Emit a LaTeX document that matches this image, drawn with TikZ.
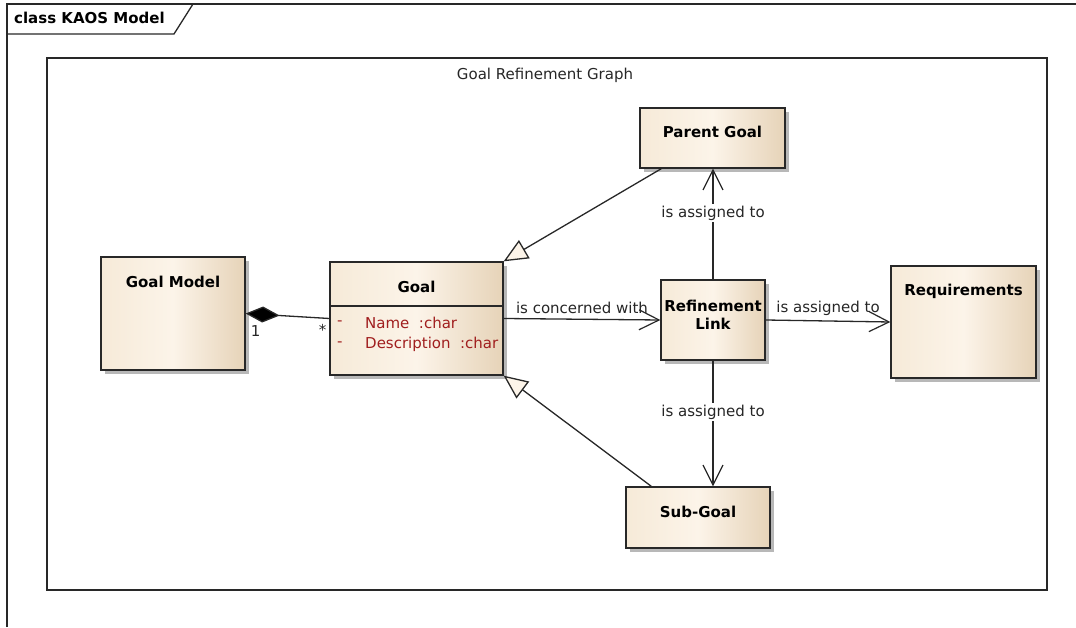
\documentclass[tikz,border=0pt]{standalone}
\usepackage{fontspec}
\setmainfont{DejaVu Sans}
\usepackage{tikz}
\usetikzlibrary{calc,positioning,arrows.meta,shadows}

\definecolor{boxL}{RGB}{246,234,216}
\definecolor{boxM}{RGB}{252,244,233}
\definecolor{boxR}{RGB}{230,211,184}
\definecolor{attrred}{RGB}{160,30,30}
\definecolor{linegray}{RGB}{40,40,40}

\tikzset{
  classbox/.style={draw=linegray, line width=1.3pt, inner sep=0pt,
    left color=boxL, right color=boxR, middle color=boxM,
    drop shadow={shadow xshift=4pt, shadow yshift=-4pt, fill=black!28, opacity=1}},
  classname/.style={font=\fontsize{15}{18}\selectfont\bfseries, align=center, inner sep=0pt},
  attr/.style={font=\fontsize{15}{18}\selectfont, text=attrred, anchor=west, inner sep=0pt},
  assoc/.style={draw=linegray, line width=1.3pt},
  lbl/.style={font=\fontsize{15}{18}\selectfont, text=black!85, inner sep=2pt},
  openarrow/.style={-{Straight Barb[length=20pt,width=20pt,line width=1.2pt]}},
  inherit/.style={-{Triangle[length=24pt,width=21pt,fill=boxM]}},
}

\begin{document}
\begin{tikzpicture}[x=1pt,y=1pt]
  \useasboundingbox (0,0) rectangle (1076,627);
  %\draw[color=gray,step=10pt, help lines,opacity=0.3] (0,0) grid (1076,627); %help grids
  % outer frame with tab
  \draw[linegray, line width=1.8pt] (7,0) -- (7,623) -- (1076,623);
  \draw[linegray, line width=1.3pt] (7,593) -- (174,593) -- (193,623);
  \node[classname, anchor=west] (frametitle) at (14,609) {class KAOS Model};
  % inner frame
  \draw[linegray, line width=1.8pt] (47,37) rectangle (1047,569);
  \node[lbl] (graphtitle) at (545,552) {Goal Refinement Graph};

  % classes
  \node[classbox, minimum width=144pt, minimum height=113pt] (gm) at (173,313.5) {};
  \node[classname] (gmtxt) at (173,345) {Goal Model};
  \node[classbox, minimum width=173pt, minimum height=113pt] (goal) at (416.5,308.5) {};
  \node[classname] (goaltxt) at (416.5,340) {Goal};
  \draw[linegray, line width=1.3pt] (goal.west |- 0,321) -- (goal.east |- 0,321);
  \node[attr] (a1) at (337,304) {-};
  \node[attr] (a2) at (365,304) {Name\ \ :char};
  \node[attr] (b1) at (337,283) {-};
  \node[attr] (b2) at (365,283) {Description\ \ :char};
  \node[classbox, minimum width=145pt, minimum height=60pt] (pg) at (712.5,489) {};
  \node[classname] (pgtxt) at (712.5,495) {Parent Goal};
  \node[classbox, minimum width=104pt, minimum height=80pt] (rl) at (713,307) {};
  \node[classname] (rltxt) at (713,312) {Refinement\\Link};
  \node[classbox, minimum width=145pt, minimum height=112pt] (req) at (963.5,305) {};
  \node[classname] (reqtxt) at (963.5,336) {Requirements};
  \node[classbox, minimum width=144pt, minimum height=61pt] (sg) at (698,109.5) {};
  \node[classname] (sgtxt) at (698,115) {Sub-Goal};

  % composition
  \draw[assoc, {Diamond[length=34pt,width=16pt,fill=black]}-] (gm.east) -- (goal.west)
    node[lbl, pos=0.12, below, yshift=-9pt] (one) {1}
    node[lbl, pos=0.92, below, yshift=-4pt] (many) {*};
  % generalisations
  \draw[assoc, inherit] ([xshift=22pt]pg.south west) -- (goal.north east);
  \draw[assoc, inherit] ([xshift=26pt]sg.north west) -- (goal.south east);
  % associations
  \draw[assoc, openarrow] (goal.east) -- (rl.west)
    node[lbl, midway, above, yshift=3pt] (conc) {is concerned with};
  \draw[assoc, openarrow] (rl.east) -- (req.west)
    node[lbl, midway, above, yshift=3pt] (asgreq) {is assigned to};
  \draw[assoc, openarrow] (rl.north) -- (rl.north |- pg.south)
    node[lbl, fill=white, pos=0.6] (asgpg) {is assigned to};
  \draw[assoc, openarrow] (rl.south) -- (rl.south |- sg.north)
    node[lbl, fill=white, pos=0.41] (asgsg) {is assigned to};
\end{tikzpicture}
\end{document}
